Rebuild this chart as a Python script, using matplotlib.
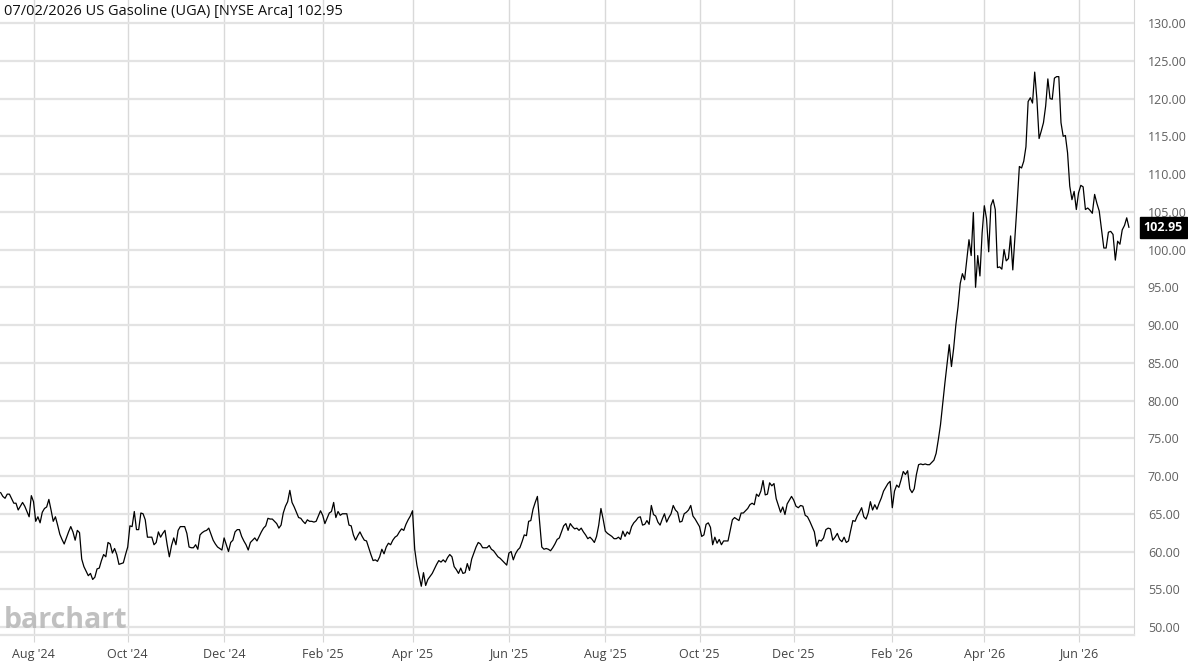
import matplotlib.pyplot as plt
import numpy as np
import pandas as pd

plt.rcParams['font.family'] = ['Open Sans', 'DejaVu Sans']

start = "2024-07-11"
end = "2026-07-02"
last_price = 102.95
title = "07/02/2026 US Gasoline (UGA) [NYSE Arca] 102.95"

# closing prices read month by month (trading days)
jul24 = [67.8, 67.3, 67.05, 67.6, 67.6, 67.0, 66.4, 66.4, 65.5, 66.0, 66.5, 66.0, 65.3, 64.6, 67.4]
aug24 = [66.6, 64.0, 64.6, 63.8, 65.2, 65.7, 65.9, 66.9, 65.5, 64.0, 64.6, 63.5, 62.3, 61.6, 61.0,
         61.8, 62.6, 63.3, 62.6, 61.5, 62.8, 62.5]
sep24 = [59.0, 58.0, 57.4, 56.8, 57.1, 56.3, 56.6, 57.7, 57.8, 58.8, 59.6, 59.3, 61.2, 61.0, 59.8,
         60.4, 59.6, 58.3, 58.4, 58.5, 59.6]
oct24 = [60.6, 63.4, 63.3, 65.3, 62.9, 62.9, 65.1, 65.0, 64.2, 61.9, 61.9, 61.9, 60.9, 61.2, 62.6,
         61.9, 62.4, 62.8, 60.9, 59.3, 60.8, 61.8, 60.9]
nov24 = [62.8, 63.3, 63.3, 63.3, 62.4, 60.6, 60.5, 60.5, 60.9, 60.3, 62.2, 62.5, 62.7, 62.8, 63.1,
         62.3, 61.5, 61.0, 60.6, 60.4, 60.2]
dec24 = [61.8, 60.9, 60.0, 61.2, 61.5, 62.6, 62.9, 62.9, 62.0, 61.4, 60.9, 60.2, 61.2, 61.5, 61.8,
         61.4, 62.0, 62.6, 63.1, 63.4, 64.4, 64.3]
jan25 = [64.3, 64.0, 63.7, 63.1, 63.5, 65.1, 66.0, 66.6, 68.1, 66.5, 65.9, 65.2, 64.5, 64.4, 64.0,
         63.7, 64.2, 64.0, 64.0, 63.9, 64.0, 64.7, 65.4]
feb25 = [64.8, 63.7, 64.4, 65.1, 65.3, 66.5, 64.5, 65.3, 64.8, 65.0, 65.0, 65.0, 63.5, 63.4, 62.2,
         61.5, 62.1, 62.6, 62.0, 61.5]
mar25 = [61.4, 60.5, 59.6, 58.8, 58.9, 58.7, 59.3, 60.3, 59.7, 60.6, 61.1, 60.9, 61.5, 61.9, 62.1,
         62.6, 63.0, 62.8, 63.6, 64.2, 64.7]
apr25 = [65.4, 60.3, 58.2, 56.8, 55.4, 57.2, 55.5, 56.3, 56.7, 57.1, 57.7, 58.3, 58.8, 58.6, 58.9,
         58.6, 59.2, 59.6, 59.3, 58.0, 57.6, 57.1]
may25 = [57.8, 57.1, 57.2, 58.4, 57.5, 59.0, 59.8, 60.6, 61.2, 61.0, 60.5, 60.5, 60.5, 60.8, 60.3,
         60.1, 59.7, 59.3, 59.1, 58.8, 58.5, 58.2]
jun25 = [59.8, 60.0, 58.9, 59.7, 60.2, 60.5, 61.3, 62.2, 62.1, 64.0, 64.1, 65.6, 66.5, 67.3, 64.0,
         60.6, 60.3, 60.4, 60.3, 60.1, 60.5]
jul25 = [61.0, 61.6, 61.8, 62.6, 63.4, 63.7, 62.8, 63.7, 63.3, 63.0, 63.1, 62.8, 63.1, 62.6, 62.2,
         61.7, 61.9, 61.6, 61.2, 62.0, 63.5, 65.7, 64.3]
aug25 = [62.7, 62.4, 62.2, 62.0, 61.7, 61.7, 61.9, 61.6, 62.7, 62.0, 62.6, 62.3, 63.3, 63.8, 64.1,
         64.5, 64.6, 63.5, 63.6, 64.1, 63.6]
sep25 = [66.1, 64.9, 64.7, 63.9, 63.5, 64.3, 65.0, 63.9, 64.5, 65.0, 66.1, 65.5, 65.2, 63.9, 64.0,
         65.0, 65.2, 65.5, 66.1, 64.7, 64.3, 63.8]
oct25 = [63.3, 62.0, 62.2, 63.6, 63.8, 63.2, 60.9, 61.9, 61.1, 61.6, 60.9, 61.4, 61.4, 61.4, 62.8,
         64.2, 64.5, 64.3, 64.1, 65.1, 65.1, 65.4, 65.7]
nov25 = [66.2, 66.4, 66.2, 67.6, 67.3, 68.0, 69.4, 67.5, 67.6, 69.1, 68.7, 69.0, 67.0, 66.1, 65.2,
         65.9, 64.9, 66.3, 66.8, 67.3]
dec25 = [66.8, 66.0, 65.8, 66.1, 66.0, 64.8, 64.6, 64.0, 63.3, 62.6, 60.7, 61.5, 61.4, 61.8, 62.9,
         63.1, 63.0, 61.5, 61.9, 62.4, 61.6, 61.3]
jan26 = [61.9, 61.2, 61.4, 62.8, 64.1, 64.0, 64.7, 65.2, 65.8, 64.6, 64.3, 65.1, 66.6, 65.5, 66.2,
         65.6, 66.4, 67.1, 68.0, 68.5, 69.0, 69.3]
feb26 = [65.8, 68.0, 68.8, 68.5, 69.5, 70.6, 70.2, 70.7, 68.3, 67.8, 68.3, 70.2, 71.5, 71.6, 71.5,
         71.6, 71.5, 71.5, 71.8, 72.1]
mar26 = [73.0, 74.8, 76.8, 79.6, 82.3, 84.9, 87.4, 84.5, 86.9, 90.0, 92.4, 95.5, 96.8, 96.0, 98.6,
         101.3, 99.2, 104.9, 95.0, 99.2, 96.5, 102.2]
apr26 = [105.8, 104.1, 99.7, 105.8, 106.6, 105.3, 97.6, 97.7, 97.4, 100.0, 98.5, 98.8, 101.8, 97.3,
         101.7, 106.2, 111.0, 110.8, 111.7, 113.6, 119.6, 120.1]
may26 = [119.4, 123.5, 119.9, 114.7, 115.7, 116.8, 119.0, 122.6, 120.0, 119.9, 122.7, 122.9, 122.9,
         116.8, 115.0, 115.1, 112.8, 108.4, 106.6, 107.7, 105.3]
jun26 = [107.5, 108.5, 108.3, 105.3, 105.5, 105.2, 104.8, 107.3, 106.1, 105.1, 102.7, 100.2, 100.2,
         102.3, 102.4, 102.0, 98.6, 101.1, 100.7, 102.6, 103.2]
jul26 = [104.2, 102.95]

months = ["2024-07", "2024-08", "2024-09", "2024-10", "2024-11", "2024-12",
          "2025-01", "2025-02", "2025-03", "2025-04", "2025-05", "2025-06",
          "2025-07", "2025-08", "2025-09", "2025-10", "2025-11", "2025-12",
          "2026-01", "2026-02", "2026-03", "2026-04", "2026-05", "2026-06", "2026-07"]
monthly = [jul24, aug24, sep24, oct24, nov24, dec24, jan25, feb25, mar25, apr25, may25, jun25,
           jul25, aug25, sep25, oct25, nov25, dec25, jan26, feb26, mar26, apr26, may26, jun26, jul26]

days = pd.bdate_range(start, end)
day_month = np.array(days.strftime("%Y-%m"))
idx = np.arange(len(days))

xs, ys = [], []
for m, vals in zip(months, monthly):
    pos = idx[day_month == m]
    xs.append(np.linspace(pos[0], pos[-1], len(vals)))
    ys.append(vals)
x = np.concatenate(xs)
y = np.concatenate(ys)

# ticks on the first trading day of even months
tick_pos, tick_lab = [], []
for m in months:
    d = pd.Timestamp(m + "-01")
    if d.month % 2 == 0:
        tick_pos.append(idx[day_month == m][0])
        tick_lab.append(d.strftime("%b '%y"))

fig = plt.figure(figsize=(11.88, 6.61), dpi=100)
ax = fig.add_axes([0, 0.0393, 0.9545, 0.9607])

ax.plot(x, y, color="black", lw=0.9, zorder=3)

ax.set_ylim(48.94, 133.05)
ax.set_xlim(-0.3, idx[-1] + 2.3)
ax.set_yticks(np.arange(50, 131, 5))
ax.yaxis.set_major_formatter(plt.FuncFormatter(lambda v, p: f"{v:.2f}"))
ax.yaxis.tick_right()
ax.tick_params(axis="y", length=0, pad=10, labelsize=9, labelcolor="#606060")
ax.set_xticks(tick_pos)
ax.set_xticklabels(tick_lab)
ax.tick_params(axis="x", length=5, color="#d6d6d6", pad=4, labelsize=9, labelcolor="#444444")

ax.grid(axis="y", color="#e3e3e3", lw=1.6)
ax.grid(axis="x", color="#d9d9d9", lw=1.0)
ax.set_axisbelow(True)

for s in ["left", "top"]:
    ax.spines[s].set_visible(False)
ax.spines["right"].set_color("#d6d6d6")
ax.spines["bottom"].set_color("#e3e3e3")
ax.spines["bottom"].set_linewidth(1.6)

fig.text(4 / 1188, 1 - 12 / 661, title, fontsize=10.5, color="#111111", va="center", ha="left")

ax.annotate(f"{last_price:.2f}", xy=(1.0, last_price), xycoords=("axes fraction", "data"),
            xytext=(7, 0), textcoords="offset points", va="center", ha="left",
            fontsize=9, fontweight="bold", color="white",
            bbox=dict(boxstyle="square,pad=0.3", fc="black", ec="black"))

fig.text(4 / 1188, 1 - 628 / 661, "barchart", fontsize=20.5, fontweight="bold",
         color="#b9b9b9", alpha=0.9, ha="left", va="baseline")

fig.savefig("out.png", dpi=100)
